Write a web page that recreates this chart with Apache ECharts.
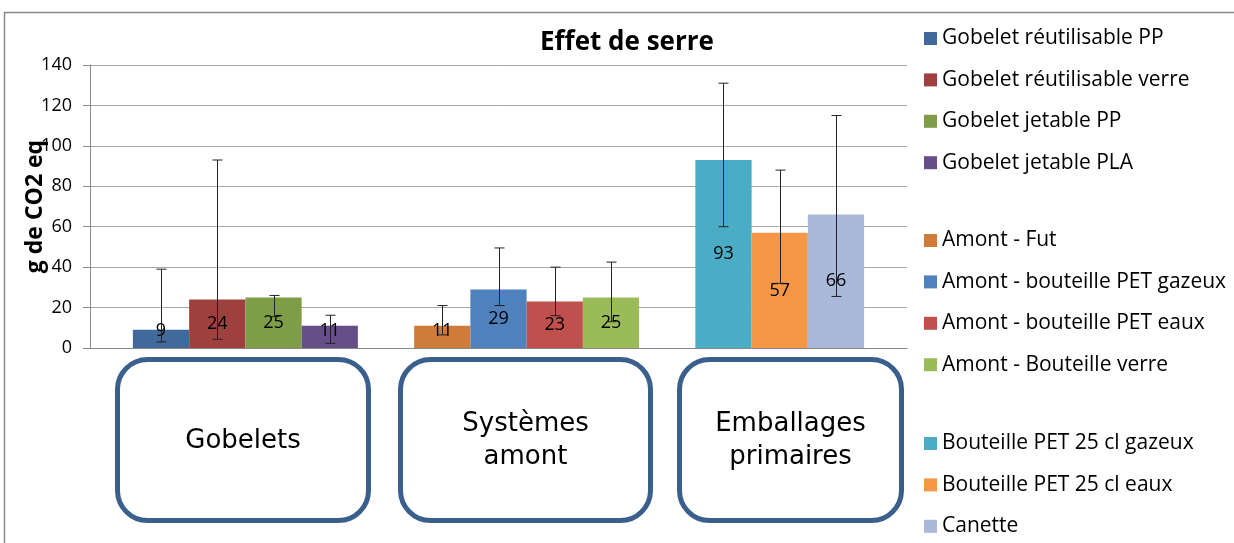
<!DOCTYPE html>
<html>
<head>
<meta charset="utf-8">
<script src="https://cdn.jsdelivr.net/npm/echarts@6/dist/echarts.min.js"></script>
<style>
  html, body { margin: 0; padding: 0; background: #fff; }
  #chart { width: 1234px; height: 543px; }
</style>
</head>
<body>
<div id="chart"></div>
<script>
// groupes (cadres sous l'axe)
const categories = ['Gobelets', 'Systèmes\namont', 'Emballages\nprimaires']
const groupSizes = [4, 4, 3]

const seriesNames = [
  'Gobelet réutilisable PP', 'Gobelet réutilisable verre', 'Gobelet jetable PP', 'Gobelet jetable PLA',
  'Amont - Fut', 'Amont - bouteille PET gazeux', 'Amont - bouteille PET eaux', 'Amont - Bouteille verre',
  'Bouteille PET 25 cl gazeux', 'Bouteille PET 25 cl eaux', 'Canette'
]
const values = [9, 24, 25, 11, 11, 29, 23, 25, 93, 57, 66]
const errLow = [3, 4.3, 15.5, 2.3, 6.5, 21, 16, 13, 60, 32, 25.5]
const errHigh = [39, 93, 26, 16.2, 21, 49.5, 40, 42.5, 131, 88, 115]
const colors = [
  '#41699C', '#A0403E', '#7F9C47', '#664F88',
  '#CF7B39', '#4F81BD', '#C0504D', '#9BBB59',
  '#4BACC6', '#F79646', '#AAB9D9'
]
const yTicks = [0, 140, 20]

const FONT = 'Open Sans'
const CAT_GAP = 0.105 // écart de catégorie (Excel 150%)

let chart = echarts.init(document.getElementById('chart'))

// une seule catégorie, séries vides entre les groupes (comme dans Excel)
let series = []
let slots = [] // position de chaque barre réelle
let slot = 0
let idx = 0
groupSizes.forEach((n, g) => {
  if (g > 0) {
    series.push({ name: 'spacer' + g, type: 'bar', barGap: '0%', barCategoryGap: (CAT_GAP * 100) + '%', data: [null], silent: true })
    slot++
  }
  for (let k = 0; k < n; k++) {
    const v = values[idx]
    series.push({
      name: seriesNames[idx],
      type: 'bar',
      barGap: '0%',
      barCategoryGap: (CAT_GAP * 100) + '%',
      itemStyle: { color: colors[idx] },
      label: {
        show: true,
        position: v < 15 ? 'insideBottom' : 'inside',
        distance: 8,
        color: '#000',
        fontFamily: FONT,
        fontSize: 18
      },
      z: 2,
      data: [v]
    })
    slots.push(slot)
    slot++
    idx++
  }
})
const totalSlots = slot

// barres d'erreur
series.push({
  type: 'custom',
  name: 'err',
  z: 5,
  silent: true,
  encode: { x: 0, y: [2, 3] },
  data: values.map((v, i) => [0, slots[i], errLow[i], errHigh[i]]),
  renderItem: (params, api) => {
    const center = api.coord([0, 0])[0]
    const band = api.size([1, 0])[0]
    const used = band * (1 - CAT_GAP)
    const bw = used / totalSlots
    const x = Math.round(center - used / 2 + (api.value(1) + 0.5) * bw) + 0.5
    const yLo = api.coord([0, api.value(2)])[1]
    const yHi = api.coord([0, api.value(3)])[1]
    const cap = 5
    const st = { stroke: '#222', lineWidth: 1 }
    return {
      type: 'group',
      children: [
        { type: 'line', shape: { x1: x, y1: yLo, x2: x, y2: yHi }, style: st },
        { type: 'line', shape: { x1: x - cap, y1: yHi, x2: x + cap, y2: yHi }, style: st },
        { type: 'line', shape: { x1: x - cap, y1: yLo, x2: x + cap, y2: yLo }, style: st }
      ]
    }
  }
})

// légendes : une par groupe
let legends = []
const legendTops = [28, 230, 433]
let start = 0
groupSizes.forEach((n, g) => {
  legends.push({
    orient: 'vertical',
    left: 924,
    top: legendTops[g],
    padding: 0,
    itemWidth: 13,
    itemHeight: 13,
    itemGap: 20.4,
    icon: 'rect',
    selectedMode: false,
    textStyle: { fontFamily: FONT, fontSize: 21, lineHeight: 20, color: '#000' },
    data: seriesNames.slice(start, start + n)
  })
  start += n
})

// cadres arrondis
const boxes = [[115, 371], [398, 653], [677, 904]]
let graphics = [
  { type: 'rect', shape: { x: 4.5, y: 12.5, width: 1400, height: 700 }, style: { fill: 'none', stroke: '#8a8a8a', lineWidth: 1.5 }, z: 0 }
]
boxes.forEach((b, i) => {
  graphics.push({
    type: 'rect',
    shape: { x: b[0] + 2.5, y: 359.5, width: b[1] - b[0] - 5, height: 161, r: 30 },
    style: { fill: '#fff', stroke: '#3B5F8D', lineWidth: 5 }
  })
  graphics.push({
    type: 'text',
    x: (b[0] + b[1]) / 2,
    y: 441,
    style: {
      text: categories[i],
      fontFamily: 'DejaVu Sans',
      fontSize: 26,
      lineHeight: 33,
      fill: '#000',
      align: 'center',
      verticalAlign: 'middle'
    }
  })
})

let option = {
  animation: false,
  title: {
    text: 'Effet de serre',
    left: 540,
    top: 30,
    padding: 0,
    textStyle: { fontFamily: FONT, fontWeight: 'bold', fontSize: 26, color: '#000' }
  },
  legend: legends,
  grid: { left: 90, right: 327, top: 65, bottom: 195 },
  xAxis: {
    type: 'category',
    data: [''],
    axisLine: { lineStyle: { color: '#8a8a8a', width: 1 } },
    axisTick: { show: false },
    axisLabel: { show: false }
  },
  yAxis: {
    type: 'value',
    min: yTicks[0],
    max: yTicks[1],
    interval: yTicks[2],
    name: 'g de CO2 eq',
    nameLocation: 'middle',
    nameGap: 43,
    nameMoveOverlap: false,
    nameTextStyle: { fontFamily: FONT, fontWeight: 'bold', fontSize: 23, color: '#000' },
    axisLine: { show: true, lineStyle: { color: '#8a8a8a', width: 1 } },
    axisTick: { show: true, length: 7, lineStyle: { color: '#8a8a8a' } },
    axisLabel: { margin: 18, fontFamily: FONT, fontSize: 18, color: '#000' },
    splitLine: { lineStyle: { color: '#a8a8a8', width: 1 } }
  },
  graphic: graphics,
  series: series
}
chart.setOption(option)
</script>
</body>
</html>
